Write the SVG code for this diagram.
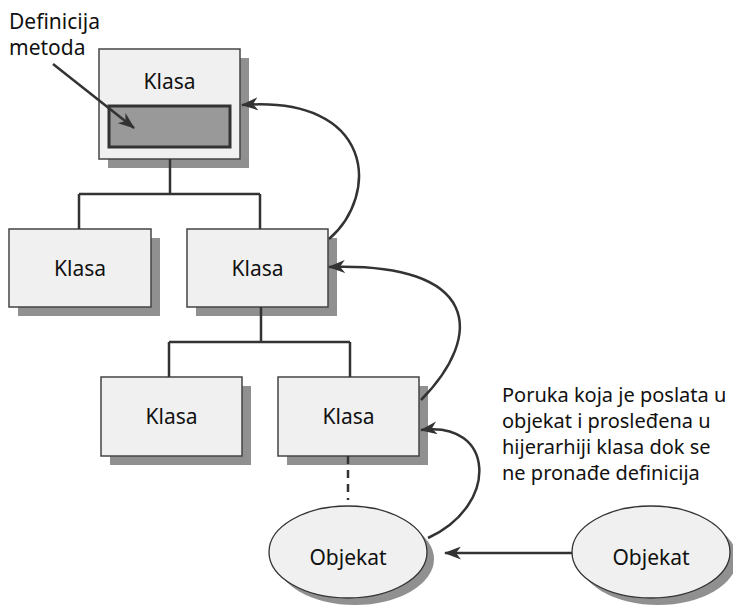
<svg xmlns="http://www.w3.org/2000/svg" width="733" height="611" viewBox="0 0 733 611">
<style>
.box{fill:#f0f0f0;stroke:#444;stroke-width:1.5}
.sh{fill:#909090}
.t{font-family:"Noto Sans","Liberation Sans",Arial,sans-serif;font-size:21px;fill:#111}
.p{font-size:20px}
.c{text-anchor:middle}
.ln{fill:none;stroke:#333;stroke-width:2.5}
.ar{fill:none;stroke:#333;stroke-width:2.5;marker-end:url(#ah)}
</style>
<defs>
<marker id="ah" viewBox="0 0 17 13" refX="16" refY="6.5" markerWidth="17" markerHeight="13" markerUnits="userSpaceOnUse" orient="auto">
<path d="M0,0 L17,6.5 L0,13 L5,6.5 z" fill="#333"/>
</marker>
</defs>
<g id="klasa1">
<rect class="sh" x="108" y="58" width="141" height="110"/>
<rect class="box" x="99" y="49" width="141" height="110"/>
<text class="t c" x="169.5" y="89">Klasa</text>
<rect x="109" y="106" width="121" height="41" fill="#999" stroke="#333" stroke-width="3"/>
</g>
<g id="klasa2">
<rect class="sh" x="18" y="238" width="142" height="78"/>
<rect class="box" x="9" y="229" width="142" height="78"/>
<text class="t c" x="80" y="276">Klasa</text>
</g>
<g id="klasa3">
<rect class="sh" x="196" y="238" width="141" height="78"/>
<rect class="box" x="187" y="229" width="141" height="78"/>
<text class="t c" x="257.5" y="276">Klasa</text>
</g>
<g id="klasa4">
<rect class="sh" x="110" y="386" width="141" height="79"/>
<rect class="box" x="101" y="377" width="141" height="79"/>
<text class="t c" x="171.5" y="424">Klasa</text>
</g>
<g id="klasa5">
<rect class="sh" x="287" y="386" width="141" height="79"/>
<rect class="box" x="278" y="377" width="141" height="79"/>
<text class="t c" x="348.5" y="424">Klasa</text>
</g>
<g id="objekat1">
<ellipse class="sh" cx="355" cy="559" rx="79" ry="46"/>
<ellipse cx="348" cy="552" rx="79" ry="46" fill="#f0f0f0" stroke="#333" stroke-width="1.3"/>
<text class="t c" x="348" y="565">Objekat</text>
</g>
<g id="objekat2">
<ellipse class="sh" cx="658" cy="559" rx="79" ry="46"/>
<ellipse cx="651" cy="552" rx="79" ry="46" fill="#f0f0f0" stroke="#333" stroke-width="1.3"/>
<text class="t c" x="651" y="565">Objekat</text>
</g>
<g id="label-definicija">
<text class="t" x="9" y="29">Definicija</text>
<text class="t" x="9" y="55">metoda</text>
</g>
<g id="label-poruka">
<text class="t p" x="502" y="402">Poruka koja je poslata u</text>
<text class="t p" x="502" y="428">objekat i prosleđena u</text>
<text class="t p" x="502" y="454">hijerarhiji klasa dok se</text>
<text class="t p" x="502" y="480">ne pronađe definicija</text>
</g>
<g id="connectors">
<path class="ln" d="M170,159 V194 M79,194 H260 M79,194 V229 M260,194 V229"/>
<path class="ln" d="M261,307 V342 M169,342 H350 M169,342 V377 M350,342 V377"/>
<path class="ln" d="M348,456 V500" stroke-dasharray="8,6"/>
<path class="ar" d="M329,239 C380,195 375,95 242,105"/>
<path class="ar" d="M421,400 C485,335 480,262 329,267"/>
<path class="ar" d="M428,538 C500,505 495,420 421,430"/>
<path class="ar" d="M572,553 H445"/>
<path class="ar" d="M53,64 L134,128"/>
</g>
</svg>
